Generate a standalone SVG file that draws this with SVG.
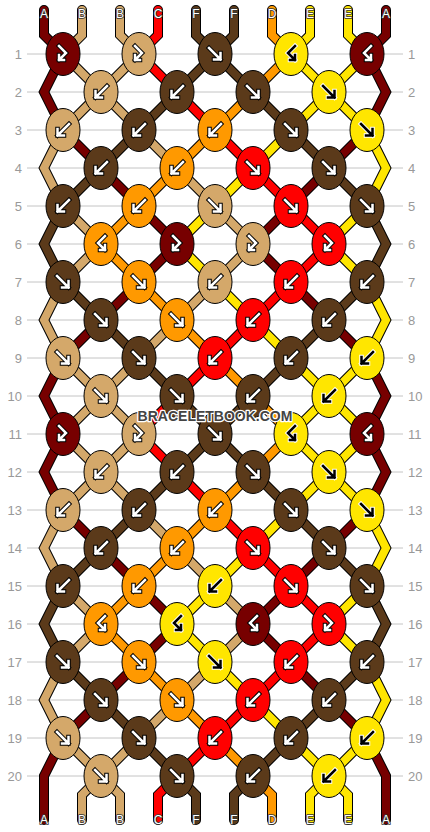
<svg xmlns="http://www.w3.org/2000/svg" xmlns:xlink="http://www.w3.org/1999/xlink" width="430" height="832" viewBox="0 0 430 832">
<style>
.grid line{stroke:#c4c4c4;stroke-width:1}
.lbl{font-family:"Liberation Sans",Arial,sans-serif;font-size:13px;fill:#999}
.let{font-family:"Liberation Sans",Arial,sans-serif;font-size:12px;fill:#fff;stroke:#333;stroke-width:1.6;paint-order:stroke;stroke-linejoin:round;text-anchor:middle}
.ol polyline{fill:none;stroke:#000;stroke-width:10;stroke-linejoin:miter;stroke-linecap:round}
.co polyline{fill:none;stroke-width:8;stroke-linejoin:miter;stroke-linecap:round}
.sA{stroke:#770000}.sB{stroke:#d4a86a}.sC{stroke:#ff0000}.sF{stroke:#5b3a1a}.sD{stroke:#ff9900}.sE{stroke:#ffe600}
.kA{fill:#770000}.kB{fill:#d4a86a}.kC{fill:#ff0000}.kF{fill:#5b3a1a}.kD{fill:#ff9900}.kE{fill:#ffe600}
.aw{stroke:#000;color:#fff}.ab{stroke:#fff;color:#000}
.wm{font-family:"Liberation Sans",Arial,sans-serif;font-size:14px;font-weight:bold;fill:#444;stroke:#fff;stroke-width:2.5;paint-order:stroke;text-anchor:middle;stroke-linejoin:round}
</style>
<defs>
<ellipse id="kn" rx="17" ry="21.5" stroke="#000" stroke-width="1"/>
<g id="af" fill="none" stroke-linecap="square" stroke-linejoin="miter"><path stroke-width="4.5" d="M-6,-6 L5.5,5.5 M5.5,-1 L5.5,5.5 L-1,5.5"/><path stroke="currentColor" stroke-width="2.5" d="M-6,-6 L5.5,5.5 M5.5,-1 L5.5,5.5 L-1,5.5"/></g>
<g id="ab" fill="none" stroke-linecap="square" stroke-linejoin="miter"><path stroke-width="4.5" d="M6,-6 L-5.5,5.5 M-5.5,-1 L-5.5,5.5 L1,5.5"/><path stroke="currentColor" stroke-width="2.5" d="M6,-6 L-5.5,5.5 M-5.5,-1 L-5.5,5.5 L1,5.5"/></g>
<g id="afb" fill="none" stroke-linecap="square" stroke-linejoin="miter"><path stroke-width="4.5" d="M-4,-8 L3,-1 L-4,6 M-4,1 L-4,6 L1,6"/><path stroke="currentColor" stroke-width="2.5" d="M-4,-8 L3,-1 L-4,6 M-4,1 L-4,6 L1,6"/></g>
<g id="abf" fill="none" stroke-linecap="square" stroke-linejoin="miter"><path stroke-width="4.5" d="M4,-8 L-3,-1 L4,6 M4,1 L4,6 L-1,6"/><path stroke="currentColor" stroke-width="2.5" d="M4,-8 L-3,-1 L4,6 M4,1 L4,6 L-1,6"/></g>
</defs>
<rect width="430" height="832" fill="#fff"/>
<g class="grid">
<line x1="27" y1="54" x2="403" y2="54"/><line x1="27" y1="92" x2="403" y2="92"/><line x1="27" y1="130" x2="403" y2="130"/><line x1="27" y1="168" x2="403" y2="168"/><line x1="27" y1="206" x2="403" y2="206"/><line x1="27" y1="244" x2="403" y2="244"/><line x1="27" y1="282" x2="403" y2="282"/><line x1="27" y1="320" x2="403" y2="320"/><line x1="27" y1="358" x2="403" y2="358"/><line x1="27" y1="396" x2="403" y2="396"/><line x1="27" y1="434" x2="403" y2="434"/><line x1="27" y1="472" x2="403" y2="472"/><line x1="27" y1="510" x2="403" y2="510"/><line x1="27" y1="548" x2="403" y2="548"/><line x1="27" y1="586" x2="403" y2="586"/><line x1="27" y1="624" x2="403" y2="624"/><line x1="27" y1="662" x2="403" y2="662"/><line x1="27" y1="700" x2="403" y2="700"/><line x1="27" y1="738" x2="403" y2="738"/><line x1="27" y1="776" x2="403" y2="776"/>
</g>
<g class="lbl" text-anchor="end">
<text x="22" y="58.5">1</text><text x="22" y="96.5">2</text><text x="22" y="134.5">3</text><text x="22" y="172.5">4</text><text x="22" y="210.5">5</text><text x="22" y="248.5">6</text><text x="22" y="286.5">7</text><text x="22" y="324.5">8</text><text x="22" y="362.5">9</text><text x="22" y="400.5">10</text><text x="22" y="438.5">11</text><text x="22" y="476.5">12</text><text x="22" y="514.5">13</text><text x="22" y="552.5">14</text><text x="22" y="590.5">15</text><text x="22" y="628.5">16</text><text x="22" y="666.5">17</text><text x="22" y="704.5">18</text><text x="22" y="742.5">19</text><text x="22" y="780.5">20</text>
</g>
<g class="lbl" text-anchor="start">
<text x="408" y="58.5">1</text><text x="408" y="96.5">2</text><text x="408" y="134.5">3</text><text x="408" y="172.5">4</text><text x="408" y="210.5">5</text><text x="408" y="248.5">6</text><text x="408" y="286.5">7</text><text x="408" y="324.5">8</text><text x="408" y="362.5">9</text><text x="408" y="400.5">10</text><text x="408" y="438.5">11</text><text x="408" y="476.5">12</text><text x="408" y="514.5">13</text><text x="408" y="552.5">14</text><text x="408" y="590.5">15</text><text x="408" y="628.5">16</text><text x="408" y="666.5">17</text><text x="408" y="704.5">18</text><text x="408" y="742.5">19</text><text x="408" y="780.5">20</text>
</g>
<g id="connectors">
<g class="ol">
<polyline points="44,10 44,35 63,54 44,92 63,130 101,168 139,206 177,244 139,282 101,320 63,358 44,396 63,434 44,472 63,510 101,548 139,586 177,624 139,662 101,700 63,738 44,776 44,795 44,820"/>
<polyline points="82,10 82,35 63,54 101,92 139,130 177,168 215,206 253,244 215,282 177,320 139,358 101,396 63,434 101,472 139,510 177,548 215,586 253,624 215,662 177,700 139,738 101,776 82,795 82,820"/>
<polyline points="120,10 120,35 139,54 101,92 63,130 44,168 63,206 101,244 63,282 44,320 63,358 101,396 139,434 101,472 63,510 44,548 63,586 101,624 63,662 44,700 63,738 101,776 120,795 120,820"/>
<polyline points="158,10 158,35 139,54 177,92 215,130 253,168 291,206 329,244 291,282 253,320 215,358 177,396 139,434 177,472 215,510 253,548 291,586 329,624 291,662 253,700 215,738 177,776 158,795 158,820"/>
<polyline points="196,10 196,35 215,54 253,92 291,130 329,168 367,206 386,244 367,282 329,320 291,358 253,396 215,434 177,472 139,510 101,548 63,586 44,624 63,662 101,700 139,738 177,776 196,795 196,820"/>
<polyline points="234,10 234,35 215,54 177,92 139,130 101,168 63,206 44,244 63,282 101,320 139,358 177,396 215,434 253,472 291,510 329,548 367,586 386,624 367,662 329,700 291,738 253,776 234,795 234,820"/>
<polyline points="272,10 272,35 291,54 253,92 215,130 177,168 139,206 101,244 139,282 177,320 215,358 253,396 291,434 253,472 215,510 177,548 139,586 101,624 139,662 177,700 215,738 253,776 272,795 272,820"/>
<polyline points="310,10 310,35 291,54 329,92 367,130 386,168 367,206 329,244 367,282 386,320 367,358 329,396 291,434 329,472 367,510 386,548 367,586 329,624 367,662 386,700 367,738 329,776 310,795 310,820"/>
<polyline points="348,10 348,35 367,54 329,92 291,130 253,168 215,206 177,244 215,282 253,320 291,358 329,396 367,434 329,472 291,510 253,548 215,586 177,624 215,662 253,700 291,738 329,776 348,795 348,820"/>
<polyline points="386,10 386,35 367,54 386,92 367,130 329,168 291,206 253,244 291,282 329,320 367,358 386,396 367,434 386,472 367,510 329,548 291,586 253,624 291,662 329,700 367,738 386,776 386,795 386,820"/>
</g>
<g class="co">
<polyline class="sA" points="44,10 44,35 63,54 44,92 63,130 101,168 139,206 177,244 139,282 101,320 63,358 44,396 63,434 44,472 63,510 101,548 139,586 177,624 139,662 101,700 63,738 44,776 44,795 44,820"/>
<polyline class="sB" points="82,10 82,35 63,54 101,92 139,130 177,168 215,206 253,244 215,282 177,320 139,358 101,396 63,434 101,472 139,510 177,548 215,586 253,624 215,662 177,700 139,738 101,776 82,795 82,820"/>
<polyline class="sB" points="120,10 120,35 139,54 101,92 63,130 44,168 63,206 101,244 63,282 44,320 63,358 101,396 139,434 101,472 63,510 44,548 63,586 101,624 63,662 44,700 63,738 101,776 120,795 120,820"/>
<polyline class="sC" points="158,10 158,35 139,54 177,92 215,130 253,168 291,206 329,244 291,282 253,320 215,358 177,396 139,434 177,472 215,510 253,548 291,586 329,624 291,662 253,700 215,738 177,776 158,795 158,820"/>
<polyline class="sF" points="196,10 196,35 215,54 253,92 291,130 329,168 367,206 386,244 367,282 329,320 291,358 253,396 215,434 177,472 139,510 101,548 63,586 44,624 63,662 101,700 139,738 177,776 196,795 196,820"/>
<polyline class="sF" points="234,10 234,35 215,54 177,92 139,130 101,168 63,206 44,244 63,282 101,320 139,358 177,396 215,434 253,472 291,510 329,548 367,586 386,624 367,662 329,700 291,738 253,776 234,795 234,820"/>
<polyline class="sD" points="272,10 272,35 291,54 253,92 215,130 177,168 139,206 101,244 139,282 177,320 215,358 253,396 291,434 253,472 215,510 177,548 139,586 101,624 139,662 177,700 215,738 253,776 272,795 272,820"/>
<polyline class="sE" points="310,10 310,35 291,54 329,92 367,130 386,168 367,206 329,244 367,282 386,320 367,358 329,396 291,434 329,472 367,510 386,548 367,586 329,624 367,662 386,700 367,738 329,776 310,795 310,820"/>
<polyline class="sE" points="348,10 348,35 367,54 329,92 291,130 253,168 215,206 177,244 215,282 253,320 291,358 329,396 367,434 329,472 291,510 253,548 215,586 177,624 215,662 253,700 291,738 329,776 348,795 348,820"/>
<polyline class="sA" points="386,10 386,35 367,54 386,92 367,130 329,168 291,206 253,244 291,282 329,320 367,358 386,396 367,434 386,472 367,510 329,548 291,586 253,624 291,662 329,700 367,738 386,776 386,795 386,820"/>
</g>
</g>
<g class="let">
<text x="44" y="17.5">A</text><text x="82" y="17.5">B</text><text x="120" y="17.5">B</text><text x="158" y="17.5">C</text><text x="196" y="17.5">F</text><text x="234" y="17.5">F</text><text x="272" y="17.5">D</text><text x="310" y="17.5">E</text><text x="348" y="17.5">E</text><text x="386" y="17.5">A</text>
<text x="44" y="824">A</text><text x="82" y="824">B</text><text x="120" y="824">B</text><text x="158" y="824">C</text><text x="196" y="824">F</text><text x="234" y="824">F</text><text x="272" y="824">D</text><text x="310" y="824">E</text><text x="348" y="824">E</text><text x="386" y="824">A</text>
</g>
<g id="knots">
<g id="k1-1" transform="translate(63,54)"><use href="#kn" class="kA"/><use href="#afb" class="aw"/></g>
<g id="k1-2" transform="translate(139,54)"><use href="#kn" class="kB"/><use href="#afb" class="aw"/></g>
<g id="k1-3" transform="translate(215,54)"><use href="#kn" class="kF"/><use href="#af" class="aw"/></g>
<g id="k1-4" transform="translate(291,54)"><use href="#kn" class="kE"/><use href="#abf" class="ab"/></g>
<g id="k1-5" transform="translate(367,54)"><use href="#kn" class="kA"/><use href="#abf" class="aw"/></g>
<g id="k2-1" transform="translate(101,92)"><use href="#kn" class="kB"/><use href="#ab" class="aw"/></g>
<g id="k2-2" transform="translate(177,92)"><use href="#kn" class="kF"/><use href="#ab" class="aw"/></g>
<g id="k2-3" transform="translate(253,92)"><use href="#kn" class="kF"/><use href="#af" class="aw"/></g>
<g id="k2-4" transform="translate(329,92)"><use href="#kn" class="kE"/><use href="#af" class="ab"/></g>
<g id="k3-1" transform="translate(63,130)"><use href="#kn" class="kB"/><use href="#ab" class="aw"/></g>
<g id="k3-2" transform="translate(139,130)"><use href="#kn" class="kF"/><use href="#ab" class="aw"/></g>
<g id="k3-3" transform="translate(215,130)"><use href="#kn" class="kD"/><use href="#ab" class="aw"/></g>
<g id="k3-4" transform="translate(291,130)"><use href="#kn" class="kF"/><use href="#af" class="aw"/></g>
<g id="k3-5" transform="translate(367,130)"><use href="#kn" class="kE"/><use href="#af" class="ab"/></g>
<g id="k4-1" transform="translate(101,168)"><use href="#kn" class="kF"/><use href="#ab" class="aw"/></g>
<g id="k4-2" transform="translate(177,168)"><use href="#kn" class="kD"/><use href="#ab" class="aw"/></g>
<g id="k4-3" transform="translate(253,168)"><use href="#kn" class="kC"/><use href="#af" class="aw"/></g>
<g id="k4-4" transform="translate(329,168)"><use href="#kn" class="kF"/><use href="#af" class="aw"/></g>
<g id="k5-1" transform="translate(63,206)"><use href="#kn" class="kF"/><use href="#ab" class="aw"/></g>
<g id="k5-2" transform="translate(139,206)"><use href="#kn" class="kD"/><use href="#ab" class="aw"/></g>
<g id="k5-3" transform="translate(215,206)"><use href="#kn" class="kB"/><use href="#af" class="aw"/></g>
<g id="k5-4" transform="translate(291,206)"><use href="#kn" class="kC"/><use href="#af" class="aw"/></g>
<g id="k5-5" transform="translate(367,206)"><use href="#kn" class="kF"/><use href="#af" class="aw"/></g>
<g id="k6-1" transform="translate(101,244)"><use href="#kn" class="kD"/><use href="#abf" class="aw"/></g>
<g id="k6-2" transform="translate(177,244)"><use href="#kn" class="kA"/><use href="#afb" class="aw"/></g>
<g id="k6-3" transform="translate(253,244)"><use href="#kn" class="kB"/><use href="#afb" class="aw"/></g>
<g id="k6-4" transform="translate(329,244)"><use href="#kn" class="kC"/><use href="#afb" class="aw"/></g>
<g id="k7-1" transform="translate(63,282)"><use href="#kn" class="kF"/><use href="#af" class="aw"/></g>
<g id="k7-2" transform="translate(139,282)"><use href="#kn" class="kD"/><use href="#af" class="aw"/></g>
<g id="k7-3" transform="translate(215,282)"><use href="#kn" class="kB"/><use href="#ab" class="aw"/></g>
<g id="k7-4" transform="translate(291,282)"><use href="#kn" class="kC"/><use href="#ab" class="aw"/></g>
<g id="k7-5" transform="translate(367,282)"><use href="#kn" class="kF"/><use href="#ab" class="aw"/></g>
<g id="k8-1" transform="translate(101,320)"><use href="#kn" class="kF"/><use href="#af" class="aw"/></g>
<g id="k8-2" transform="translate(177,320)"><use href="#kn" class="kD"/><use href="#af" class="aw"/></g>
<g id="k8-3" transform="translate(253,320)"><use href="#kn" class="kC"/><use href="#ab" class="aw"/></g>
<g id="k8-4" transform="translate(329,320)"><use href="#kn" class="kF"/><use href="#ab" class="aw"/></g>
<g id="k9-1" transform="translate(63,358)"><use href="#kn" class="kB"/><use href="#af" class="aw"/></g>
<g id="k9-2" transform="translate(139,358)"><use href="#kn" class="kF"/><use href="#af" class="aw"/></g>
<g id="k9-3" transform="translate(215,358)"><use href="#kn" class="kC"/><use href="#ab" class="aw"/></g>
<g id="k9-4" transform="translate(291,358)"><use href="#kn" class="kF"/><use href="#ab" class="aw"/></g>
<g id="k9-5" transform="translate(367,358)"><use href="#kn" class="kE"/><use href="#ab" class="ab"/></g>
<g id="k10-1" transform="translate(101,396)"><use href="#kn" class="kB"/><use href="#af" class="aw"/></g>
<g id="k10-2" transform="translate(177,396)"><use href="#kn" class="kF"/><use href="#af" class="aw"/></g>
<g id="k10-3" transform="translate(253,396)"><use href="#kn" class="kF"/><use href="#ab" class="aw"/></g>
<g id="k10-4" transform="translate(329,396)"><use href="#kn" class="kE"/><use href="#ab" class="ab"/></g>
<g id="k11-1" transform="translate(63,434)"><use href="#kn" class="kA"/><use href="#afb" class="aw"/></g>
<g id="k11-2" transform="translate(139,434)"><use href="#kn" class="kB"/><use href="#afb" class="aw"/></g>
<g id="k11-3" transform="translate(215,434)"><use href="#kn" class="kF"/><use href="#af" class="aw"/></g>
<g id="k11-4" transform="translate(291,434)"><use href="#kn" class="kE"/><use href="#abf" class="ab"/></g>
<g id="k11-5" transform="translate(367,434)"><use href="#kn" class="kA"/><use href="#abf" class="aw"/></g>
<g id="k12-1" transform="translate(101,472)"><use href="#kn" class="kB"/><use href="#ab" class="aw"/></g>
<g id="k12-2" transform="translate(177,472)"><use href="#kn" class="kF"/><use href="#ab" class="aw"/></g>
<g id="k12-3" transform="translate(253,472)"><use href="#kn" class="kF"/><use href="#af" class="aw"/></g>
<g id="k12-4" transform="translate(329,472)"><use href="#kn" class="kE"/><use href="#af" class="ab"/></g>
<g id="k13-1" transform="translate(63,510)"><use href="#kn" class="kB"/><use href="#ab" class="aw"/></g>
<g id="k13-2" transform="translate(139,510)"><use href="#kn" class="kF"/><use href="#ab" class="aw"/></g>
<g id="k13-3" transform="translate(215,510)"><use href="#kn" class="kD"/><use href="#ab" class="aw"/></g>
<g id="k13-4" transform="translate(291,510)"><use href="#kn" class="kF"/><use href="#af" class="aw"/></g>
<g id="k13-5" transform="translate(367,510)"><use href="#kn" class="kE"/><use href="#af" class="ab"/></g>
<g id="k14-1" transform="translate(101,548)"><use href="#kn" class="kF"/><use href="#ab" class="aw"/></g>
<g id="k14-2" transform="translate(177,548)"><use href="#kn" class="kD"/><use href="#ab" class="aw"/></g>
<g id="k14-3" transform="translate(253,548)"><use href="#kn" class="kC"/><use href="#af" class="aw"/></g>
<g id="k14-4" transform="translate(329,548)"><use href="#kn" class="kF"/><use href="#af" class="aw"/></g>
<g id="k15-1" transform="translate(63,586)"><use href="#kn" class="kF"/><use href="#ab" class="aw"/></g>
<g id="k15-2" transform="translate(139,586)"><use href="#kn" class="kD"/><use href="#ab" class="aw"/></g>
<g id="k15-3" transform="translate(215,586)"><use href="#kn" class="kE"/><use href="#ab" class="ab"/></g>
<g id="k15-4" transform="translate(291,586)"><use href="#kn" class="kC"/><use href="#af" class="aw"/></g>
<g id="k15-5" transform="translate(367,586)"><use href="#kn" class="kF"/><use href="#af" class="aw"/></g>
<g id="k16-1" transform="translate(101,624)"><use href="#kn" class="kD"/><use href="#abf" class="aw"/></g>
<g id="k16-2" transform="translate(177,624)"><use href="#kn" class="kE"/><use href="#abf" class="ab"/></g>
<g id="k16-3" transform="translate(253,624)"><use href="#kn" class="kA"/><use href="#abf" class="aw"/></g>
<g id="k16-4" transform="translate(329,624)"><use href="#kn" class="kC"/><use href="#afb" class="aw"/></g>
<g id="k17-1" transform="translate(63,662)"><use href="#kn" class="kF"/><use href="#af" class="aw"/></g>
<g id="k17-2" transform="translate(139,662)"><use href="#kn" class="kD"/><use href="#af" class="aw"/></g>
<g id="k17-3" transform="translate(215,662)"><use href="#kn" class="kE"/><use href="#af" class="ab"/></g>
<g id="k17-4" transform="translate(291,662)"><use href="#kn" class="kC"/><use href="#ab" class="aw"/></g>
<g id="k17-5" transform="translate(367,662)"><use href="#kn" class="kF"/><use href="#ab" class="aw"/></g>
<g id="k18-1" transform="translate(101,700)"><use href="#kn" class="kF"/><use href="#af" class="aw"/></g>
<g id="k18-2" transform="translate(177,700)"><use href="#kn" class="kD"/><use href="#af" class="aw"/></g>
<g id="k18-3" transform="translate(253,700)"><use href="#kn" class="kC"/><use href="#ab" class="aw"/></g>
<g id="k18-4" transform="translate(329,700)"><use href="#kn" class="kF"/><use href="#ab" class="aw"/></g>
<g id="k19-1" transform="translate(63,738)"><use href="#kn" class="kB"/><use href="#af" class="aw"/></g>
<g id="k19-2" transform="translate(139,738)"><use href="#kn" class="kF"/><use href="#af" class="aw"/></g>
<g id="k19-3" transform="translate(215,738)"><use href="#kn" class="kC"/><use href="#ab" class="aw"/></g>
<g id="k19-4" transform="translate(291,738)"><use href="#kn" class="kF"/><use href="#ab" class="aw"/></g>
<g id="k19-5" transform="translate(367,738)"><use href="#kn" class="kE"/><use href="#ab" class="ab"/></g>
<g id="k20-1" transform="translate(101,776)"><use href="#kn" class="kB"/><use href="#af" class="aw"/></g>
<g id="k20-2" transform="translate(177,776)"><use href="#kn" class="kF"/><use href="#af" class="aw"/></g>
<g id="k20-3" transform="translate(253,776)"><use href="#kn" class="kF"/><use href="#ab" class="aw"/></g>
<g id="k20-4" transform="translate(329,776)"><use href="#kn" class="kE"/><use href="#ab" class="ab"/></g>
</g>
<text class="wm" x="215" y="420.5">BRACELETBOOK.COM</text>
</svg>
